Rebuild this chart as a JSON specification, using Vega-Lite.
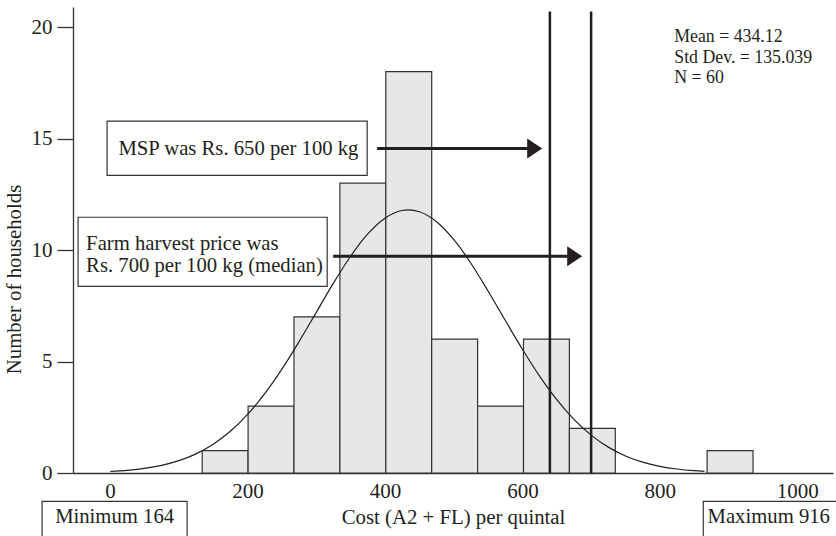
{
  "$schema": "https://vega.github.io/schema/vega-lite/v6.json",
  "width": 760,
  "height": 466,
  "autosize": "none",
  "padding": {"left": 73, "top": 7, "right": 3, "bottom": 63},
  "background": "white",
  "config": {
    "view": {"stroke": null},
    "font": "Liberation Serif",
    "axis": {"labelFont": "Liberation Serif", "titleFont": "Liberation Serif", "labelFontSize": 21, "titleFontSize": 20.8, "titleFontWeight": "normal", "labelColor": "#231f20", "titleColor": "#231f20", "domainColor": "#333333", "tickColor": "#333333", "domainWidth": 1.3, "tickWidth": 1.3, "grid": false}
  },
  "layer": [
    {
      "data": {"values": [
        {"lo": 134, "hi": 200.8, "count": 1},
        {"lo": 200.8, "hi": 267.6, "count": 3},
        {"lo": 267.6, "hi": 334.4, "count": 7},
        {"lo": 334.4, "hi": 401.2, "count": 13},
        {"lo": 401.2, "hi": 468, "count": 18},
        {"lo": 468, "hi": 534.8, "count": 6},
        {"lo": 534.8, "hi": 601.6, "count": 3},
        {"lo": 601.6, "hi": 668.4, "count": 6},
        {"lo": 668.4, "hi": 735.2, "count": 2},
        {"lo": 868.8, "hi": 935.6, "count": 1}
      ]},
      "mark": {"type": "rect", "fill": "#e6e7e9", "stroke": "#333333", "strokeWidth": 1.2},
      "encoding": {
        "x": {"field": "lo", "type": "quantitative", "scale": {"domain": [-54, 1052], "nice": false, "zero": false},
          "axis": {"values": [0, 200, 400, 600, 800, 1000], "format": "d", "ticks": false, "labelPadding": 7, "title": "Cost (A2 + FL) per quintal", "titlePadding": 6, "labelFlush": false}},
        "x2": {"field": "hi"},
        "y": {"field": "count", "type": "quantitative", "scale": {"domain": [0, 20.9], "nice": false},
          "axis": {"values": [0, 5, 10, 15, 20], "tickSize": 16, "labelPadding": 5, "title": "Number of households", "titlePadding": 7, "titleY": 272}},
        "y2": {"datum": 0}
      }
    },
    {
      "data": {"values": [
        {"x": 0, "y": 0.067}, {"x": 25, "y": 0.12}, {"x": 50, "y": 0.206}, {"x": 75, "y": 0.344},
        {"x": 100, "y": 0.553}, {"x": 125, "y": 0.859}, {"x": 150, "y": 1.291}, {"x": 175, "y": 1.873},
        {"x": 200, "y": 2.626}, {"x": 225, "y": 3.557}, {"x": 250, "y": 4.657}, {"x": 275, "y": 5.893},
        {"x": 300, "y": 7.205}, {"x": 325, "y": 8.514}, {"x": 350, "y": 9.72}, {"x": 375, "y": 10.721},
        {"x": 400, "y": 11.43}, {"x": 425, "y": 11.773}, {"x": 434, "y": 11.8}, {"x": 450, "y": 11.719},
        {"x": 475, "y": 11.272}, {"x": 500, "y": 10.476}, {"x": 525, "y": 9.409}, {"x": 550, "y": 8.165},
        {"x": 575, "y": 6.848}, {"x": 600, "y": 5.55}, {"x": 625, "y": 4.345}, {"x": 650, "y": 3.287},
        {"x": 675, "y": 2.404}, {"x": 700, "y": 1.699}, {"x": 725, "y": 1.16}, {"x": 750, "y": 0.765},
        {"x": 775, "y": 0.488}, {"x": 800, "y": 0.301}, {"x": 825, "y": 0.179}, {"x": 850, "y": 0.103},
        {"x": 865, "y": 0.073}
      ]},
      "mark": {"type": "line", "color": "#231f20", "strokeWidth": 1.2, "interpolate": "monotone"},
      "encoding": {
        "x": {"field": "x", "type": "quantitative"},
        "y": {"field": "y", "type": "quantitative"}
      }
    },
    {
      "data": {"values": [{"price": 640}, {"price": 700}]},
      "mark": {"type": "rule", "color": "#231f20", "strokeWidth": 2.5},
      "encoding": {
        "x": {"field": "price", "type": "quantitative"},
        "y": {"datum": 0},
        "y2": {"datum": 20.7}
      }
    },
    {
      "data": {"values": [
        {"x0": -4.4, "x1": 374.1, "y0": 13.35, "y1": 15.78},
        {"x0": -46.6, "x1": 315.9, "y0": 8.37, "y1": 11.47},
        {"x0": -99, "x1": 112.1, "y0": -3.2, "y1": -1.27},
        {"x0": 863.2, "x1": 1065, "y0": -3.2, "y1": -1.27}
      ]},
      "mark": {"type": "rect", "fill": "white", "stroke": "#333333", "strokeWidth": 1.2, "clip": false},
      "encoding": {
        "x": {"field": "x0", "type": "quantitative"},
        "x2": {"field": "x1"},
        "y": {"field": "y0", "type": "quantitative"},
        "y2": {"field": "y1"}
      }
    },
    {
      "data": {"values": [
        {"x0": 388.6, "x1": 618.6, "y": 14.55},
        {"x0": 324.6, "x1": 676.9, "y": 9.72}
      ]},
      "mark": {"type": "rule", "color": "#231f20", "strokeWidth": 3},
      "encoding": {
        "x": {"field": "x0", "type": "quantitative"},
        "x2": {"field": "x1"},
        "y": {"field": "y", "type": "quantitative"}
      }
    },
    {
      "data": {"values": [
        {"x": 628.8, "y": 14.55},
        {"x": 687.0, "y": 9.72}
      ]},
      "mark": {"type": "point", "shape": "M -1.5 -1 L 0 0 L -1.5 1 Z", "size": 400, "filled": true, "color": "#231f20", "opacity": 1},
      "encoding": {
        "x": {"field": "x", "type": "quantitative"},
        "y": {"field": "y", "type": "quantitative"}
      }
    },
    {
      "data": {"values": [
        {"x": 12.1, "y": 14.55, "label": ["MSP was Rs. 650 per 100 kg"]},
        {"x": -34.9, "y": 10.29, "label": ["Farm harvest price was", "Rs. 700 per 100 kg (median)"]},
        {"x": -80, "y": -1.97, "label": ["Minimum 164"]},
        {"x": 869.4, "y": -1.97, "label": ["Maximum 916"]}
      ]},
      "mark": {"type": "text", "align": "left", "baseline": "middle", "font": "Liberation Serif", "fontSize": 20.7, "lineHeight": 22.5, "color": "#231f20", "clip": false},
      "encoding": {
        "x": {"field": "x", "type": "quantitative"},
        "y": {"field": "y", "type": "quantitative"},
        "text": {"field": "label"}
      }
    },
    {
      "data": {"values": [
        {"x": 821, "y": 19.55, "label": ["Mean = 434.12", "Std Dev. = 135.039", "N = 60"]}
      ]},
      "mark": {"type": "text", "align": "left", "baseline": "middle", "font": "Liberation Serif", "fontSize": 17.8, "lineHeight": 20.5, "color": "#231f20", "clip": false},
      "encoding": {
        "x": {"field": "x", "type": "quantitative"},
        "y": {"field": "y", "type": "quantitative"},
        "text": {"field": "label"}
      }
    }
  ]
}
